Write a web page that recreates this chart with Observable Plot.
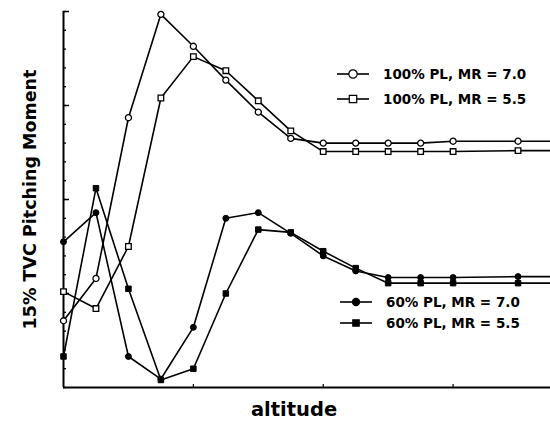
<!DOCTYPE html>
<html>
<head>
<meta charset="utf-8">
<script src="https://cdn.jsdelivr.net/npm/d3@7"></script>
<script src="https://cdn.jsdelivr.net/npm/@observablehq/plot@0.6"></script>
<style>
  html, body { margin: 0; padding: 0; background: #fff; }
  #chart svg { display: block; }
</style>
</head>
<body>
<div id="chart"></div>
<script>
// Altitude stations (arbitrary units); the last entry carries each curve to the frame edge.
const altitude = [0, 1, 2, 3, 4, 5, 6, 7, 8, 9, 10, 11, 12, 14, 15];

// 15% TVC pitching moment for each payload / mixture-ratio case
const pl100mr70 = [3.55, 5.8, 14.35, 19.85, 18.15, 16.35, 14.65, 13.25, 13.0, 13.0, 13.0, 13.0, 13.1, 13.1, 13.1];
const pl100mr55 = [5.1, 4.2, 7.5, 15.4, 17.6, 16.85, 15.25, 13.65, 12.55, 12.55, 12.55, 12.55, 12.55, 12.6, 12.6];
const pl60mr70  = [7.75, 9.3, 1.65, 0.45, 3.2, 9.0, 9.3, 8.2, 7.0, 6.2, 5.85, 5.85, 5.85, 5.9, 5.9];
const pl60mr55  = [1.65, 10.6, 5.25, 0.4, 1.0, 5.0, 8.4, 8.25, 7.25, 6.35, 5.55, 5.55, 5.55, 5.55, 5.55];

const seriesNames = ["100% PL, MR = 7.0", "100% PL, MR = 5.5", "60% PL, MR = 7.0", "60% PL, MR = 5.5"];
const seriesValues = [pl100mr70, pl100mr55, pl60mr70, pl60mr55];
const seriesSymbols = ["circle", "square", "circle", "square"];
const seriesFilled = [false, false, true, true];

const yMinorTicks = d3.range(0, 21);
const yMajorTicks = [5, 10, 15, 20];
const xTicks = [4, 8, 12];

// Long-format table built from the arrays above
const rows = seriesNames.flatMap((name, i) =>
  altitude.map((a, j) => ({
    series: name,
    altitude: a,
    moment: seriesValues[i][j],
    symbol: seriesSymbols[i],
    filled: seriesFilled[i]
  }))
);
const markers = rows.filter(d => d.altitude <= 14);

const font = "'DejaVu Sans', sans-serif";

const chart = Plot.plot({
  width: 550,
  height: 421,
  marginLeft: 63,
  marginRight: 0,
  marginTop: 11,
  marginBottom: 34,
  style: { fontFamily: font, background: "#fff", color: "#000" },
  x: { domain: [0, 15], axis: null },
  y: { domain: [0, 20], axis: null },
  marks: [
    // Axis frame: left and bottom lines
    Plot.ruleX([0], { stroke: "#000", strokeWidth: 2 }),
    Plot.ruleY([0], { stroke: "#000", strokeWidth: 2 }),
    // Inward ticks on the moment axis
    Plot.ruleY(yMinorTicks, { y: d => d, x1: 0, x2: 0, insetRight: -3, stroke: "#000", strokeWidth: 1.3 }),
    Plot.ruleY(yMajorTicks, { y: d => d, x1: 0, x2: 0, insetRight: -6, stroke: "#000", strokeWidth: 1.5 }),
    // Inward ticks on the altitude axis
    Plot.ruleX(xTicks, { x: d => d, y1: 0, y2: 0, insetTop: -3, stroke: "#000", strokeWidth: 1.2 }),
    // Curves
    Plot.line(rows, { x: "altitude", y: "moment", z: "series", stroke: "#000", strokeWidth: 1.6, clip: true }),
    // Open markers
    Plot.dot(markers.filter(d => !d.filled), {
      x: "altitude", y: "moment", symbol: "symbol", r: d => d.symbol === "square" ? 5 : 4.6,
      fill: "#fff", stroke: "#000", strokeWidth: 1.3
    }),
    // Filled markers
    Plot.dot(markers.filter(d => d.filled), {
      x: "altitude", y: "moment", symbol: "symbol", r: d => d.symbol === "square" ? 4.8 : 4.4,
      fill: "#000", stroke: "#000", strokeWidth: 1
    }),
    // Axis titles
    Plot.text(["15% TVC Pitching Moment"], {
      frameAnchor: "left", textAnchor: "middle", dx: -33, rotate: -90,
      fontSize: 17.5, fontWeight: "bold", fill: "#000"
    }),
    Plot.text(["altitude"], {
      frameAnchor: "bottom", dx: -13, dy: 22, fontSize: 19.5, fontWeight: "bold", fill: "#000", lineAnchor: "middle"
    })
  ]
});

document.getElementById("chart").appendChild(chart);

// Legends: two stacked blocks, one for each payload level
const svg = d3.select(chart);
const legendRows = [
  { i: 0, x: 337, y: 74, size: 4.2 },
  { i: 1, x: 337, y: 99, size: 4.2 },
  { i: 2, x: 340, y: 302, size: 3.6 },
  { i: 3, x: 340, y: 323, size: 3.6 }
];
const lg = svg.append("g").attr("class", "legend");
for (const r of legendRows) {
  const g = lg.append("g").attr("transform", `translate(${r.x},${r.y})`);
  g.append("line").attr("x1", 0).attr("x2", 32).attr("y1", 0).attr("y2", 0)
    .attr("stroke", "#000").attr("stroke-width", 1.6);
  const sym = d3.symbol(seriesSymbols[r.i] === "square" ? d3.symbolSquare : d3.symbolCircle, Math.PI * r.size * r.size)();
  g.append("path").attr("d", sym).attr("transform", "translate(16,0)")
    .attr("fill", seriesFilled[r.i] ? "#000" : "#fff").attr("stroke", "#000").attr("stroke-width", 1.2);
  g.append("text").attr("x", 46).attr("y", 0).attr("dy", "0.36em")
    .attr("text-anchor", "start")
    .attr("font-family", font).attr("font-weight", "bold").attr("font-size", 13.5)
    .attr("fill", "#000").text(seriesNames[r.i]);
}
</script>
</body>
</html>
